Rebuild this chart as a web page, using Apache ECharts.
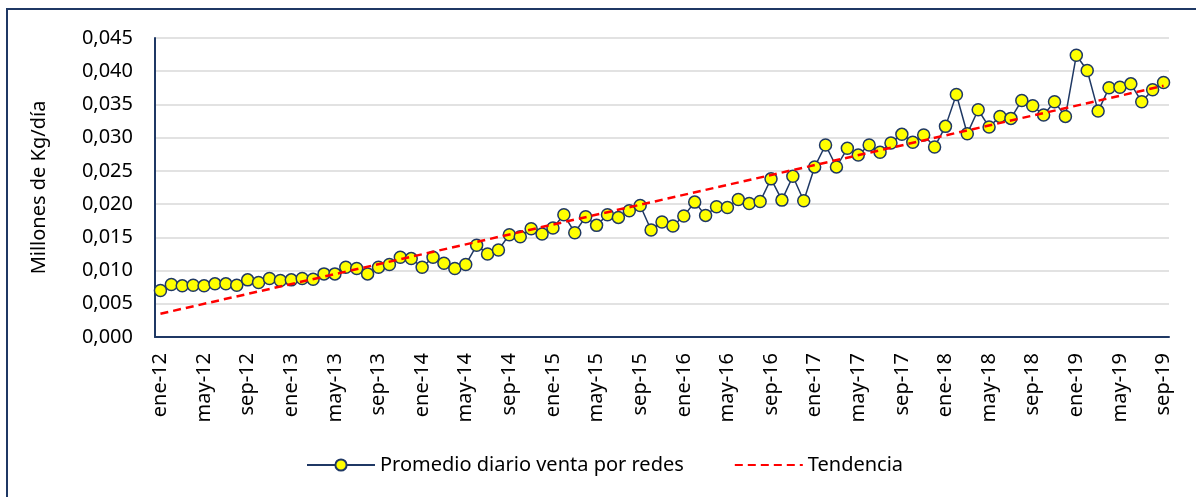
<!DOCTYPE html>
<html>
<head>
<meta charset="utf-8">
<script src="https://cdn.jsdelivr.net/npm/echarts@6/dist/echarts.min.js"></script>
<style>
html,body{margin:0;padding:0;background:#fff;}
#chart{width:1196px;height:497px;}
</style>
</head>
<body>
<div id="chart"></div>
<script>
// Categories (monthly, ene-12 .. sep-19)
const categories = [
  "ene-12","feb-12","mar-12","abr-12","may-12","jun-12","jul-12","ago-12","sep-12","oct-12","nov-12","dic-12",
  "ene-13","feb-13","mar-13","abr-13","may-13","jun-13","jul-13","ago-13","sep-13","oct-13","nov-13","dic-13",
  "ene-14","feb-14","mar-14","abr-14","may-14","jun-14","jul-14","ago-14","sep-14","oct-14","nov-14","dic-14",
  "ene-15","feb-15","mar-15","abr-15","may-15","jun-15","jul-15","ago-15","sep-15","oct-15","nov-15","dic-15",
  "ene-16","feb-16","mar-16","abr-16","may-16","jun-16","jul-16","ago-16","sep-16","oct-16","nov-16","dic-16",
  "ene-17","feb-17","mar-17","abr-17","may-17","jun-17","jul-17","ago-17","sep-17","oct-17","nov-17","dic-17",
  "ene-18","feb-18","mar-18","abr-18","may-18","jun-18","jul-18","ago-18","sep-18","oct-18","nov-18","dic-18",
  "ene-19","feb-19","mar-19","abr-19","may-19","jun-19","jul-19","ago-19","sep-19"
];

// Promedio diario venta por redes (millones de kg/día), one row per year
const promedioDiario = [
  0.0070,0.0079,0.0077,0.0078,0.0077,0.0080,0.0080,0.0078,0.0086,0.0082,0.0088,0.0085,
  0.0086,0.0088,0.0087,0.0095,0.0095,0.0105,0.0103,0.0095,0.0105,0.0109,0.0120,0.0118,
  0.0105,0.0120,0.0111,0.0103,0.0109,0.0138,0.0125,0.0131,0.0154,0.0151,0.0163,0.0155,
  0.0164,0.0184,0.0157,0.0181,0.0168,0.0184,0.0180,0.0190,0.0198,0.0161,0.0173,0.0167,
  0.0182,0.0203,0.0183,0.0196,0.0195,0.0207,0.0201,0.0204,0.0238,0.0206,0.0242,0.0205,
  0.0256,0.0289,0.0256,0.0284,0.0274,0.0289,0.0278,0.0292,0.0305,0.0293,0.0304,0.0286,
  0.0317,0.0365,0.0306,0.0342,0.0316,0.0332,0.0329,0.0356,0.0348,0.0334,0.0354,0.0332,
  0.0424,0.0401,0.0340,0.0375,0.0376,0.0381,0.0354,0.0372,0.0383
];

// Tendencia (linear trend): values read at first and last month
const trendStart = 0.0035;
const trendEnd = 0.0378;

// Y-axis ticks
const yMin = 0, yMax = 0.045, yStep = 0.005;

const trendData = categories.map((c, i) =>
  i === 0 ? trendStart : (i === categories.length - 1 ? trendEnd : null));

const NAVY = '#1F3864';
const FONT = '"Noto Sans", "Open Sans", sans-serif';

const chart = echarts.init(document.getElementById('chart'), null, {renderer: 'canvas'});
chart.setOption({
  animation: false,
  backgroundColor: '#ffffff',
  textStyle: {fontFamily: FONT, color: '#000'},
  graphic: [{
    type: 'rect',
    shape: {x: 7, y: 9, width: 1200, height: 520},
    style: {fill: 'none', stroke: NAVY, lineWidth: 2},
    silent: true, z: -1
  }],
  grid: {left: 155, right: 27, top: 38, bottom: 160, containLabel: false},
  legend: {
    left: 301, top: 450,
    itemWidth: 68, itemHeight: 14, itemGap: 50,
    textStyle: {fontFamily: FONT, fontSize: 20, color: '#000'},
    data: ['Promedio diario venta por redes', 'Tendencia']
  },
  xAxis: {
    type: 'category',
    data: categories,
    boundaryGap: true,
    axisLine: {lineStyle: {color: NAVY, width: 2}},
    axisTick: {show: false},
    axisLabel: {
      interval: 3, rotate: 90, margin: 16,
      fontFamily: FONT, fontSize: 20, color: '#000'
    },
    splitLine: {show: false}
  },
  yAxis: {
    type: 'value',
    min: yMin, max: yMax, interval: yStep,
    name: 'Millones de Kg/día',
    nameLocation: 'middle',
    nameGap: 106,
    nameTextStyle: {fontFamily: FONT, fontSize: 20, color: '#000'},
    axisLine: {show: true, lineStyle: {color: NAVY, width: 2}},
    axisTick: {show: false},
    axisLabel: {
      margin: 22, fontFamily: FONT, fontSize: 20, color: '#000',
      formatter: v => v.toFixed(3).replace('.', ',')
    },
    splitLine: {lineStyle: {color: '#D9D9D9', width: 1.5}}
  },
  series: [
    {
      name: 'Promedio diario venta por redes',
      type: 'line',
      data: promedioDiario,
      symbol: 'circle',
      symbolSize: 12,
      showSymbol: true,
      showAllSymbol: true,
      lineStyle: {color: NAVY, width: 1.5},
      itemStyle: {color: '#FFFF00', borderColor: NAVY, borderWidth: 1.5},
      z: 3
    },
    {
      name: 'Tendencia',
      type: 'line',
      data: trendData,
      connectNulls: true,
      symbol: 'none',
      lineStyle: {color: '#FF0000', width: 2.5, type: [8, 5]},
      itemStyle: {color: 'rgba(0,0,0,0)', borderWidth: 0},
      z: 4
    }
  ]
});
</script>
</body>
</html>
